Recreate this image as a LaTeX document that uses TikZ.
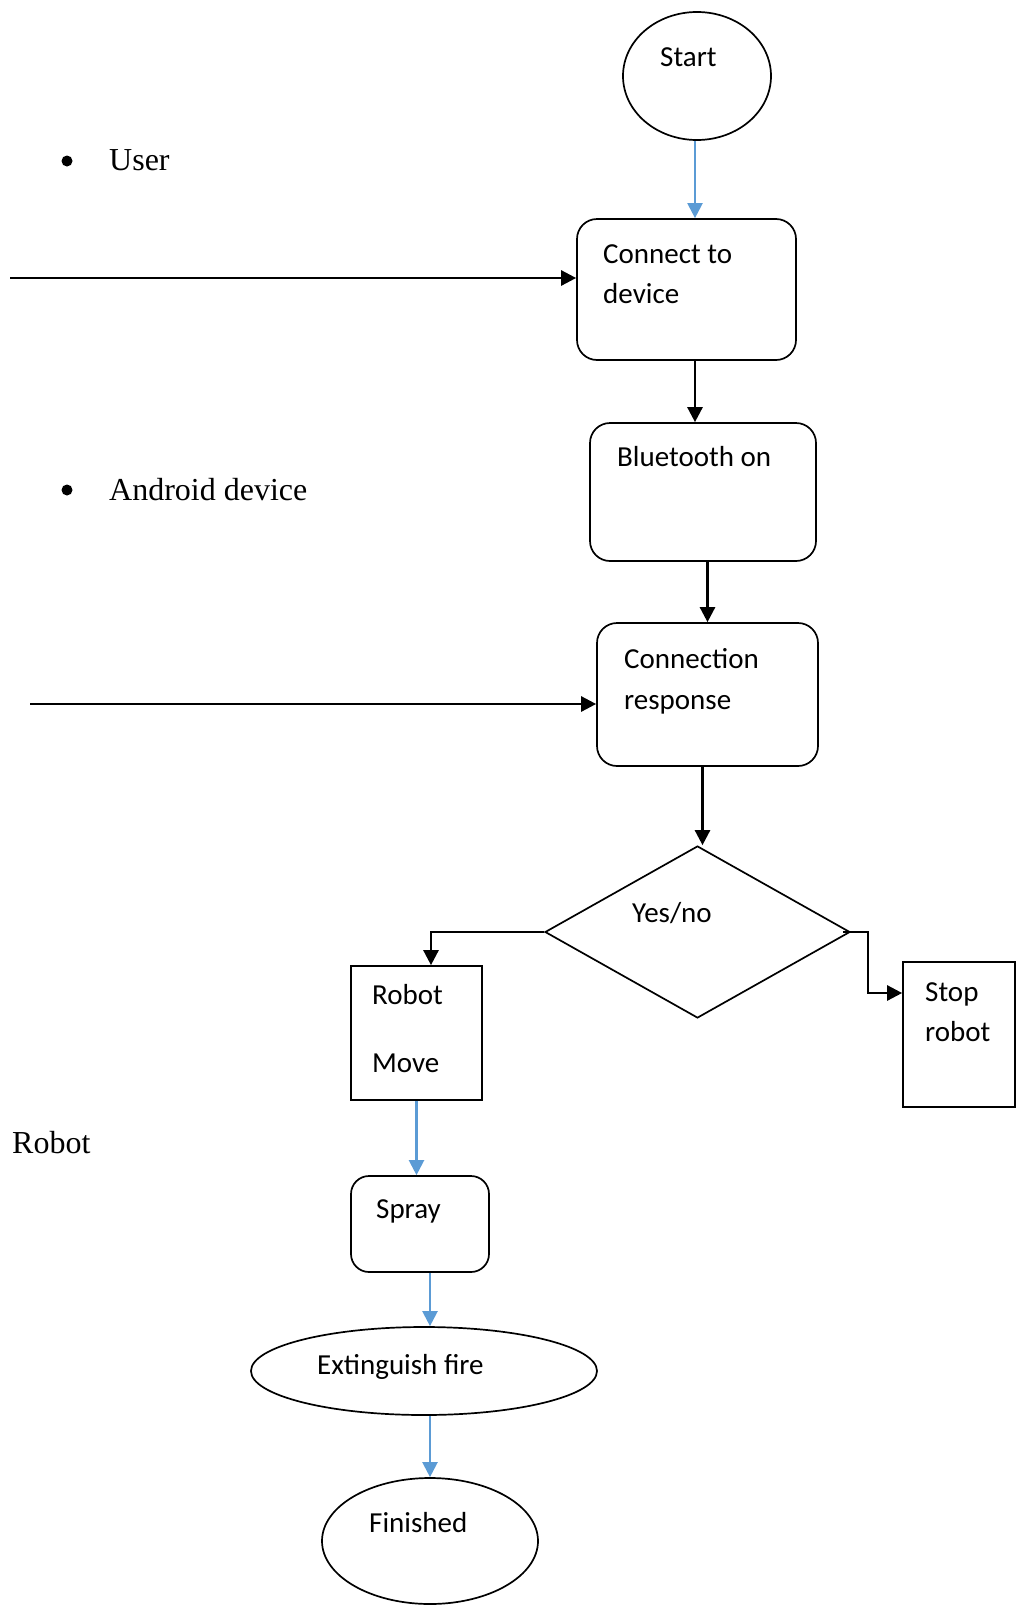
\documentclass[tikz,border=0pt]{standalone}
\usepackage{fontspec}
\setmainfont{Liberation Serif}
\newfontfamily\calib{Carlito}
\usetikzlibrary{arrows.meta,shapes.geometric}
\definecolor{flowblue}{RGB}{91,155,213}
\begin{document}
\begin{tikzpicture}[x=1pt,y=-1pt,
 shp/.style={draw,line width=1.7pt,inner sep=0pt},
 rbox/.style={shp,rectangle,rounded corners=20pt},
 sbox/.style={shp,rectangle},
 oval/.style={shp,ellipse},
 lbl/.style={font=\calib\fontsize{29}{35}\selectfont,anchor=base west,inner sep=0pt},
 serif/.style={font=\fontsize{32}{38}\selectfont,anchor=base west,inner sep=0pt},
 dot/.style={circle,fill,inner sep=0pt,minimum size=11pt},
 blk/.style={line width=2.6pt,-{Triangle[length=15pt,width=15pt]}},
 blu/.style={flowblue,line width=2.2pt,-{Triangle[length=15pt,width=15pt]}}]
\useasboundingbox (0,0) rectangle (1019,1606);

% shapes
\node[oval,minimum width=148pt,minimum height=128pt] (start) at (697,76) {};
\node[rbox,minimum width=219pt,minimum height=141pt] (connect) at (686.5,289.5) {};
\node[rbox,minimum width=226pt,minimum height=138pt] (bt) at (703,492) {};
\node[rbox,minimum width=221pt,minimum height=143pt] (conn) at (707.5,694.5) {};
\node[shp,diamond,minimum width=305pt,minimum height=172pt] (dia) at (697.5,932) {};
\node[sbox,minimum width=131pt,minimum height=134pt] (robot) at (416.5,1033) {};
\node[sbox,minimum width=112pt,minimum height=145pt] (stop) at (959,1034.5) {};
\node[rbox,rounded corners=18pt,minimum width=138pt,minimum height=96pt] (spray) at (420,1224) {};
\node[oval,minimum width=346pt,minimum height=88pt] (ext) at (424,1371) {};
\node[oval,minimum width=216pt,minimum height=126pt] (fin) at (430,1541) {};

% texts
\node[lbl] (tstart) at (660,66) {Start};
\node[lbl] (tconn1) at (603,263) {Connect to};
\node[lbl] (tconn2) at (603,303) {device};
\node[lbl] (tbt) at (617,466) {Bluetooth on};
\node[lbl] (tresp1) at (624,668) {Connection};
\node[lbl] (tresp2) at (624,709) {response};
\node[lbl] (tyes) at (632,922) {Yes/no};
\node[lbl] (trob1) at (372,1004) {Robot};
\node[lbl] (trob2) at (372,1072) {Move};
\node[lbl] (tstop1) at (925,1001) {Stop};
\node[lbl] (tstop2) at (925,1041) {robot};
\node[lbl] (tspray) at (376,1218) {Spray};
\node[lbl] (text) at (317,1374) {Extinguish fire};
\node[lbl] (tfin) at (369,1532) {Finished};

\node[dot] (b1) at (67,161) {};
\node[serif] (user) at (109,170) {User};
\node[dot] (b2) at (67,490) {};
\node[serif] (android) at (109,500) {Android device};
\node[serif] (robotlbl) at (12,1153) {Robot};

% connectors
\coordinate (u0) at (10,278);
\coordinate (a0) at (30,704);
\draw[blk] (u0) -- (u0 -| connect.west);
\draw[blk] (a0) -- (a0 -| conn.west);

\draw[blu] ([xshift=-2pt]start.south) -- ([xshift=-2pt]start.south |- connect.north);
\draw[blk] ([xshift=8.5pt]connect.south) -- ([xshift=8.5pt]connect.south |- bt.north);
\draw[blk] (conn.north |- bt.south) -- (conn.north);
\draw[blk] ([xshift=-5pt]conn.south) -- ([xshift=-5pt]conn.south |- dia.north);

\coordinate (lb) at (431,932);
\draw[blk] (dia.west) -- (lb) -- (lb |- robot.north);
\coordinate (rb1) at (868,932);
\coordinate (rb2) at (868,993);
\draw[blk] ([xshift=-8pt]dia.east) -- (rb1) -- (rb2) -- (rb2 -| stop.west);

\draw[blu] (robot.south) -- (robot.south |- spray.north);
\draw[blu] ([xshift=10pt]spray.south) -- ([xshift=10pt]spray.south |- ext.north);
\draw[blu] (fin.north |- ext.south) -- (fin.north);
\end{tikzpicture}
\end{document}
